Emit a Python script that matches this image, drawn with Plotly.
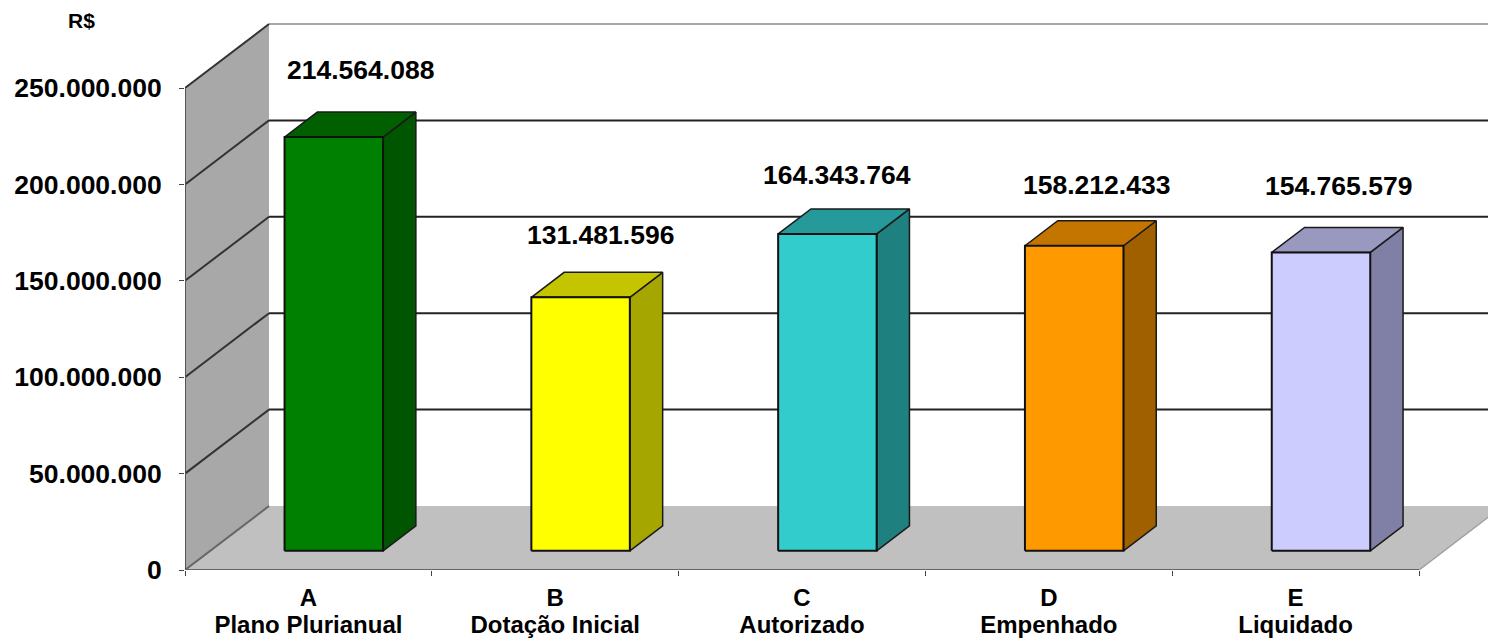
import plotly.graph_objects as go

LETTERS = ["A", "B", "C", "D", "E"]
NAMES = ["Plano Plurianual", "Dotação Inicial", "Autorizado", "Empenhado", "Liquidado"]
VALUES = [214564088, 131481596, 164343764, 158212433, 154765579]
VALUE_TEXT = ["214.564.088", "131.481.596", "164.343.764", "158.212.433", "154.765.579"]
Y_TICKS = [0, 50000000, 100000000, 150000000, 200000000, 250000000]
Y_TICK_TEXT = ["0", "50.000.000", "100.000.000", "150.000.000", "200.000.000", "250.000.000"]
FRONT = ["#008000", "#ffff00", "#33cccc", "#ff9900", "#ccccff"]
TOP = ["#006000", "#c4c400", "#269a9a", "#c47500", "#9999c0"]
SIDE = ["#005500", "#a6a600", "#1f8080", "#a06000", "#8080a6"]
LABEL_DX = [27, 20, 10, 22, 18]
LABEL_DY = [67, 62, 59, 61, 66]

PLOT_L, PLOT_B, W, H = 185, 74, 1488, 644
CAT_W = 246.8
V_PX = 482.0 / 250000000
DX, DY = 84.0, 64.0
XR = [0, (W - PLOT_L) / CAT_W]
YR = [0, (H - PLOT_B) / V_PX]
N = len(VALUES)
TOPV = Y_TICKS[-1]


def P(x, v, d):
    """Oblique projection: category x, value v, depth d (0 front .. 1 back)."""
    return x + d * DX / CAT_W, v + d * DY / V_PX


def poly(points, fill, line="rgba(0,0,0,0)", width=0):
    xs, ys = zip(*(points + points[:1]))
    return go.Scatter(x=xs, y=ys, mode="lines", fill="toself", fillcolor=fill,
                      line=dict(color=line, width=width), hoverinfo="skip", showlegend=False)


def seg(a, b, color, width=2):
    return go.Scatter(x=[a[0], b[0]], y=[a[1], b[1]], mode="lines",
                      line=dict(color=color, width=width), hoverinfo="skip", showlegend=False)


fig = go.Figure()
# Side wall and floor
fig.add_trace(poly([P(0, 0, 0), P(0, TOPV, 0), P(0, TOPV, 1), P(0, 0, 1)], "#a8a8a8"))
fig.add_trace(poly([P(0, 0, 0), P(N, 0, 0), P(N, 0, 1), P(0, 0, 1)], "#c0c0c0"))
# Grid
for t in Y_TICKS[1:]:
    col = "#a8a8a8" if t == TOPV else "#222222"
    fig.add_trace(seg(P(0, t, 1), P(N, t, 1), col, 2))
    fig.add_trace(seg(P(0, t, 0), P(0, t, 1), "#333333", 2))
fig.add_trace(seg(P(0, 0, 0), P(0, 0, 1), "#666666", 2))
fig.add_trace(seg(P(0, 0, 0), P(0, TOPV, 0), "#555555", 2))
fig.add_trace(seg(P(0, 0, 0), P(N, 0, 0), "#666666", 2))
fig.add_trace(seg(P(N, 0, 0), P(N, 0, 1), "#a0a0a0", 1.5))

# Bars
BW = 98.5 / CAT_W
D0, D1 = 19.2 / 64, 44.2 / 64
BAR_SHIFT = 0.2 / CAT_W
for i, v in enumerate(VALUES):
    xl = i + 0.5 - BW / 2 + BAR_SHIFT
    xr = i + 0.5 + BW / 2 + BAR_SHIFT
    fig.add_trace(poly([P(xr, 0, D0), P(xr, v, D0), P(xr, v, D1), P(xr, 0, D1)], SIDE[i], "#1a1a1a", 1.5))
    fig.add_trace(poly([P(xl, v, D0), P(xr, v, D0), P(xr, v, D1), P(xl, v, D1)], TOP[i], "#1a1a1a", 1.5))
    fig.add_trace(poly([P(xl, 0, D0), P(xr, 0, D0), P(xr, v, D0), P(xl, v, D0)], FRONT[i], "#111111", 2))
    cx, cy = P(i + 0.5, v, D0)
    fig.add_annotation(x=cx, y=cy, xref="x", yref="y", text=VALUE_TEXT[i], showarrow=False,
                       xshift=LABEL_DX[i], yshift=LABEL_DY[i], xanchor="center", yanchor="middle",
                       font=dict(family="Liberation Sans", size=26.5, color="#000000", weight="bold"))

# Invisible carriers for the label axes
for ax in ("x2", "x3"):
    fig.add_trace(go.Scatter(x=[0.5], y=[0], xaxis=ax, mode="markers", marker=dict(opacity=0),
                             hoverinfo="skip", showlegend=False))

LABEL_FONT = dict(family="Liberation Sans", size=24, color="#000000", weight="bold")
CENTERS = [i + 0.5 for i in range(N)]
fig.update_layout(
    width=W, height=H, autosize=False, showlegend=False,
    margin=dict(l=PLOT_L, r=0, t=0, b=PLOT_B, pad=0),
    paper_bgcolor="white", plot_bgcolor="white",
    xaxis=dict(range=XR, showgrid=False, zeroline=False, showline=False, tickmode="array",
               tickvals=list(range(N + 1)), ticktext=[""] * (N + 1), ticks="outside", ticklen=5,
               tickwidth=1, tickcolor="#444444"),
    xaxis2=dict(range=XR, overlaying="x", anchor="y", side="bottom", showgrid=False, zeroline=False,
                tickmode="array", tickvals=CENTERS, ticktext=LETTERS, ticks="",
                ticklabelstandoff=11, tickfont=LABEL_FONT),
    xaxis3=dict(range=XR, overlaying="x", anchor="y", side="bottom", showgrid=False, zeroline=False,
                tickmode="array", tickvals=CENTERS, ticktext=NAMES, ticks="",
                ticklabelstandoff=38, tickfont=LABEL_FONT),
    yaxis=dict(range=YR, showgrid=False, zeroline=False, showline=False, tickmode="array",
               tickvals=Y_TICKS, ticktext=Y_TICK_TEXT, ticks="outside", ticklen=5, tickwidth=1,
               tickcolor="#444444", ticklabelstandoff=12,
               tickfont=dict(family="Liberation Sans", size=26.5, color="#000000", weight="bold")),
)
fig.add_annotation(x=(81 - PLOT_L) / (W - PLOT_L), y=(H - PLOT_B - 20) / (H - PLOT_B),
                   xref="paper", yref="paper", text="R$", showarrow=False,
                   xanchor="center", yanchor="middle",
                   font=dict(family="Liberation Sans", size=21, color="#000000", weight="bold"))
fig.write_html("out.html", config={"displayModeBar": False},
               post_script="document.body.style.margin='0';document.documentElement.style.overflow='hidden';")
